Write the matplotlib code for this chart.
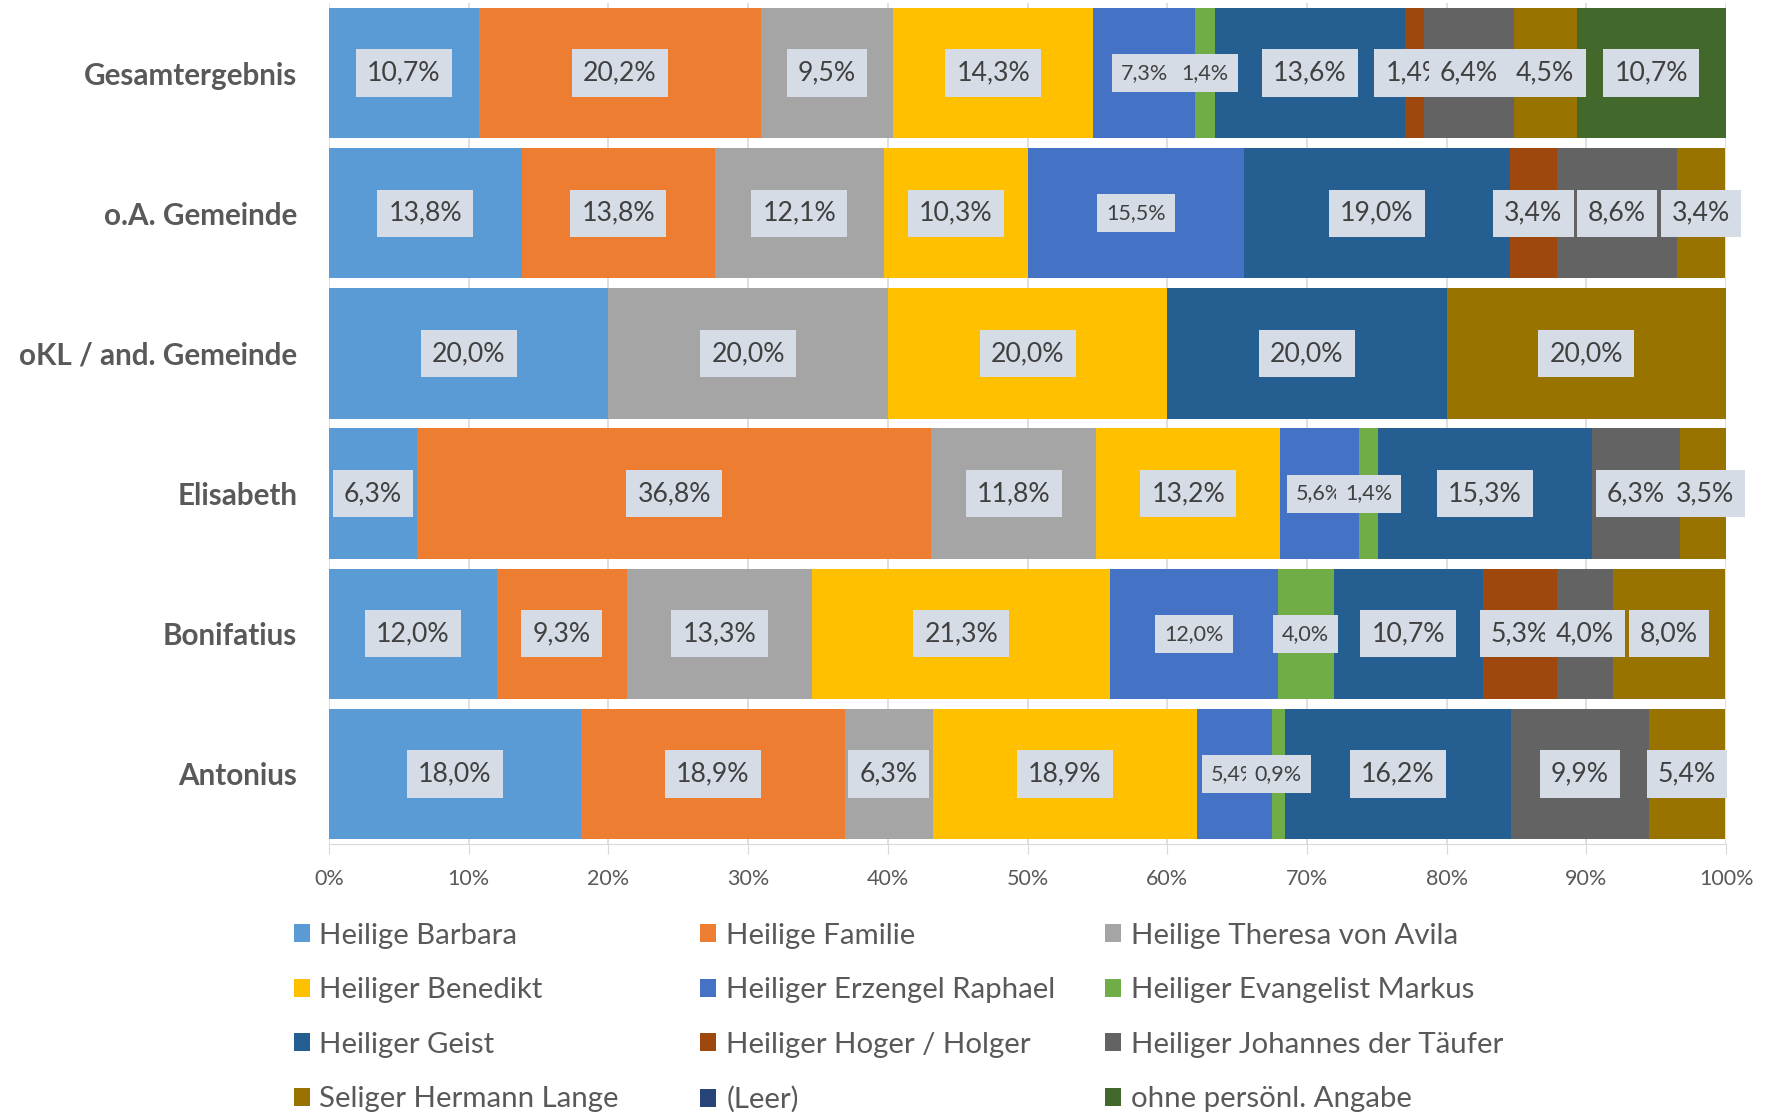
import matplotlib.pyplot as plt
from matplotlib.patches import Patch
import numpy as np

plt.rcParams['font.family'] = ['Lato', 'DejaVu Sans']

# categories, top to bottom as in the chart
categories = ["Gesamtergebnis", "o.A. Gemeinde", "oKL / and. Gemeinde",
              "Elisabeth", "Bonifatius", "Antonius"]

series = ["Heilige Barbara", "Heilige Familie", "Heilige Theresa von Avila",
          "Heiliger Benedikt", "Heiliger Erzengel Raphael", "Heiliger Evangelist Markus",
          "Heiliger Geist", "Heiliger Hoger / Holger", "Heiliger Johannes der Täufer",
          "Seliger Hermann Lange", "(Leer)", "ohne persönl. Angabe"]

colors = ["#5B9BD5", "#ED7D31", "#A5A5A5", "#FFC000", "#4472C4", "#70AD47",
          "#255E91", "#9E480E", "#636363", "#997300", "#264478", "#43682B"]

# percentages per series, in category order above
barbara   = [10.7, 13.8, 20.0, 6.3, 12.0, 18.0]
familie   = [20.2, 13.8, 0.0, 36.8, 9.3, 18.9]
theresa   = [9.5, 12.1, 20.0, 11.8, 13.3, 6.3]
benedikt  = [14.3, 10.3, 20.0, 13.2, 21.3, 18.9]
raphael   = [7.3, 15.5, 0.0, 5.6, 12.0, 5.4]
markus    = [1.4, 0.0, 0.0, 1.4, 4.0, 0.9]
geist     = [13.6, 19.0, 20.0, 15.3, 10.7, 16.2]
hoger     = [1.4, 3.4, 0.0, 0.0, 5.3, 0.0]
johannes  = [6.4, 8.6, 0.0, 6.3, 4.0, 9.9]
hermann   = [4.5, 3.4, 20.0, 3.5, 8.0, 5.4]
leer      = [0.0, 0.0, 0.0, 0.0, 0.0, 0.0]
ohne      = [10.7, 0.0, 0.0, 0.0, 0.0, 0.0]

data = [barbara, familie, theresa, benedikt, raphael, markus,
        geist, hoger, johannes, hermann, leer, ohne]
small_label = {"Heiliger Erzengel Raphael", "Heiliger Evangelist Markus"}

fig = plt.figure(figsize=(17.76, 11.14), dpi=100)
ax = fig.add_axes([0.1853, 0.2424, 0.7866, 0.7549])

y = np.arange(len(categories))[::-1]
left = np.zeros(len(categories))
handles = []
for k, (name, vals, col) in enumerate(zip(series, data, colors)):
    vals = np.array(vals)
    ax.barh(y, vals, left=left, height=0.93, color=col, edgecolor='none', zorder=2)
    handles.append(Patch(facecolor=col, label=name))
    fs = 15.5 if name in small_label else 19.2
    for yi, l, v in zip(y, left, vals):
        if v <= 0:
            continue
        ax.text(l + v / 2, yi, f"{v:.1f}%".replace('.', ','), ha='center', va='center',
                fontsize=fs, color='#404040', zorder=10 + k,
                bbox=dict(boxstyle='square,pad=0.42', fc='#D6DCE5', ec='none'))
    left += vals

ax.set_xlim(0, 100)
ax.set_ylim(-0.5, 5.5)
ax.set_yticks(y)
ax.set_yticklabels(categories, fontsize=21.3, fontweight='bold', color='#595959')
ax.tick_params(axis='y', length=0, pad=23)
ax.set_xticks(np.arange(0, 101, 10))
ax.set_xticklabels([f"{t}%" for t in range(0, 101, 10)], fontsize=15.5, color='#595959')
ax.tick_params(axis='x', length=7, color='#D9D9D9', pad=11)
ax.grid(axis='x', color='#D9D9D9', lw=1.2, zorder=0)
for s in ['top', 'right', 'left']:
    ax.spines[s].set_visible(False)
ax.spines['bottom'].set_color('#D9D9D9')

# legend: three columns filled row by row
col_x = [0.157, 0.386, 0.614]
for c in range(3):
    leg = fig.legend(handles=handles[c::3], loc='upper left',
                     bbox_to_anchor=(col_x[c], 0.185), frameon=False,
                     fontsize=21.2, handlelength=0.55, handleheight=0.55,
                     handletextpad=0.33, labelspacing=0.97, borderpad=0)
    for t in leg.get_texts():
        t.set_color('#595959')

fig.savefig("out.png", dpi=100)
